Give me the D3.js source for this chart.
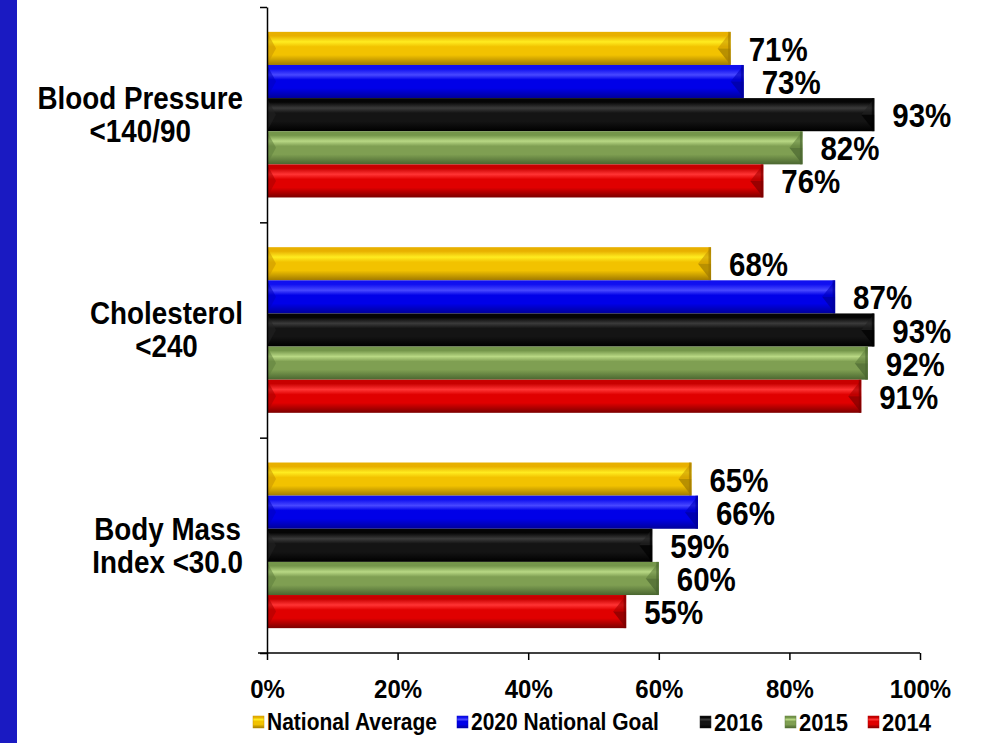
<!DOCTYPE html>
<html lang="en">
<head>
<meta charset="UTF-8">
<title>Screening results</title>
<style>
    body { margin: 0; background: #fff; }
    svg { display: block; font-family: "Liberation Sans", Arial, sans-serif; font-weight: bold; }
</style>
</head>
<body>
<script src="https://cdn.jsdelivr.net/npm/d3@7"></script>
<script>
    // categories, top to bottom (two lines each)
    var categories = ["Blood Pressure|<140/90", "Cholesterol|<240", "Body Mass|Index <30.0"];
    var series = ["National Average", "2020 National Goal", "2016", "2015", "2014"];
    var nationalAverage = [71, 68, 65];
    var nationalGoal = [73, 87, 66];
    var y2016 = [93, 93, 59];
    var y2015 = [82, 92, 60];
    var y2014 = [76, 91, 55];
    var xTicks = [0, 20, 40, 60, 80, 100];

    var seriesValues = [nationalAverage, nationalGoal, y2016, y2015, y2014];
    // [top, highlight, mid, bottom, cap]
    var palette = [
        ["#e8b000", "#ffec20", "#f2c200", "#a07a00", "#c89400"],
        ["#1010f0", "#4848ff", "#0000e8", "#00009a", "#0000c0"],
        ["#050505", "#3a3a3a", "#141414", "#000000", "#222"],
        ["#74964a", "#b8d884", "#7f9f52", "#4a6630", "#5f7e3c"],
        ["#c80000", "#ff3434", "#e00000", "#7c0000", "#a80000"]
    ];

    var W = 984, H = 743;
    var svg = d3.select("body").append("svg").attr("width", W).attr("height", H);

    // text in the original is a bit taller than plain Arial: grow it, keep the width
    function squash(sel, size, stretch) {
        sel.attr("font-size", size).each(function () {
            var w = this.getComputedTextLength();
            d3.select(this).attr("font-size", size * stretch)
                .attr("textLength", w).attr("lengthAdjust", "spacingAndGlyphs");
        });
    }

    // blue strip on the left
    svg.append("rect").attr("x", 0).attr("y", 0).attr("width", 17).attr("height", H).attr("fill", "#1a1ac2");

    var defs = svg.append("defs");
    palette.forEach(function (c, i) {
        var g = defs.append("linearGradient").attr("id", "g" + i)
            .attr("x1", 0).attr("y1", 0).attr("x2", 0).attr("y2", 1);
        [[0, c[0]], [0.12, c[0]], [0.3, c[1]], [0.45, c[2]], [0.7, c[2]], [1, c[3]]].forEach(function (s) {
            g.append("stop").attr("offset", s[0]).attr("stop-color", s[1]);
        });
    });

    var x = d3.scaleLinear().domain([0, 100]).range([267, 920]);
    var yLin = d3.scaleLinear().domain([0, categories.length]).range([7, 653]);
    var y0 = d3.scaleBand().domain(categories).range([7, 653]);
    var y1 = d3.scaleBand().domain(series).range([0, y0.bandwidth()]).paddingOuter(0.75);

    var groups = svg.selectAll("g.cat").data(categories).enter()
        .append("g").attr("class", "cat")
        .attr("transform", function (d) { return "translate(0," + y0(d) + ")"; });

    groups.each(function (cat, ci) {
        var g = d3.select(this);
        series.forEach(function (s, si) {
            var v = seriesValues[si][ci];
            var bx0 = x(0), bx1 = x(v), by = y1(s), bh = y1.bandwidth();
            var c = palette[si];
            g.append("rect").attr("x", bx0).attr("y", by).attr("width", bx1 - bx0).attr("height", bh)
                .attr("fill", "url(#g" + si + ")");
            // bevel at left end
            g.append("path")
                .attr("d", "M" + bx0 + "," + by + "L" + (bx0 + 9) + "," + (by + bh / 2) + "L" + bx0 + "," + (by + bh) + "Z")
                .attr("fill", c[4]).attr("opacity", 0.55);
            // bevel at right end: lit upper half, shaded lower half
            g.append("path")
                .attr("d", "M" + bx1 + "," + by + "L" + (bx1 - 13) + "," + (by + bh / 2) + "L" + bx1 + "," + (by + bh / 2) + "Z")
                .attr("fill", c[4]).attr("opacity", 0.6);
            g.append("path")
                .attr("d", "M" + bx1 + "," + (by + bh / 2) + "L" + (bx1 - 13) + "," + (by + bh / 2) + "L" + bx1 + "," + (by + bh) + "Z")
                .attr("fill", c[3]).attr("opacity", 0.7);
            g.append("rect").attr("x", bx1 - 2.5).attr("y", by).attr("width", 2.5).attr("height", bh)
                .attr("fill", c[3]).attr("opacity", 0.6);
            g.append("text")
                .attr("x", bx1 + 18).attr("y", by + bh / 2 + 1)
                .attr("dy", "0.35em")
                .attr("fill", "#000")
                .text(v + "%")
                .call(squash, 29.5, 1.12);
        });

        // category label, lines centred, block right-aligned
        var lines = cat.split("|");
        var t = g.append("text").attr("font-size", 27).attr("fill", "#000").attr("text-anchor", "middle");
        var spans = lines.map(function (l, li) {
            return t.append("tspan").attr("y", y0.bandwidth() / 2 + (li - (lines.length - 1) / 2) * 33).attr("dy", "0.35em").text(l);
        });
        var maxW = d3.max(spans, function (sp) { return sp.node().getComputedTextLength(); });
        spans.forEach(function (sp) { sp.attr("x", 243 - maxW * 1.03 / 2); });
        t.selectAll("tspan").call(squash, 27.8, 1.1);
    });

    // y axis: ticks at band boundaries
    svg.append("g").attr("transform", "translate(" + x(0) + ",0)")
        .call(d3.axisLeft(yLin).tickValues(d3.range(categories.length + 1)).tickSize(7).tickSizeOuter(0).tickFormat(""))
        .call(function (a) { a.selectAll("path,line").attr("stroke", "#000").attr("stroke-width", 1.5); });

    // x axis
    var xa = svg.append("g").attr("transform", "translate(0,653)")
        .call(d3.axisBottom(x).tickValues(xTicks).tickSize(7).tickSizeOuter(0).tickPadding(19)
            .tickFormat(function (d) { return d + "%"; }));
    xa.select(".domain").attr("d", "M258,0H" + x(100)).attr("stroke", "#000").attr("stroke-width", 1.5);
    xa.selectAll("line").attr("stroke", "#000").attr("stroke-width", 1.5);
    xa.selectAll("text").attr("font-weight", "bold").attr("fill", "#000")
        .attr("font-family", "Liberation Sans, Arial, sans-serif")
        .call(squash, 24, 1.1);

    // legend
    var legendX = [253, 457, 700, 785, 868];
    var leg = svg.append("g").attr("transform", "translate(0,722)");
    series.forEach(function (s, i) {
        var it = leg.append("g").attr("transform", "translate(" + legendX[i] + ",0)");
        it.append("rect").attr("x", 0).attr("y", -6).attr("width", 11).attr("height", 12)
            .attr("fill", "url(#g" + i + ")").attr("stroke", palette[i][4]).attr("stroke-width", 0.5);
        it.append("text").attr("x", 14).attr("dy", "0.35em").attr("fill", "#000").text(s)
            .call(squash, i >= 2 ? 22 : 21, 1.12);
    });
</script>
</body>
</html>
